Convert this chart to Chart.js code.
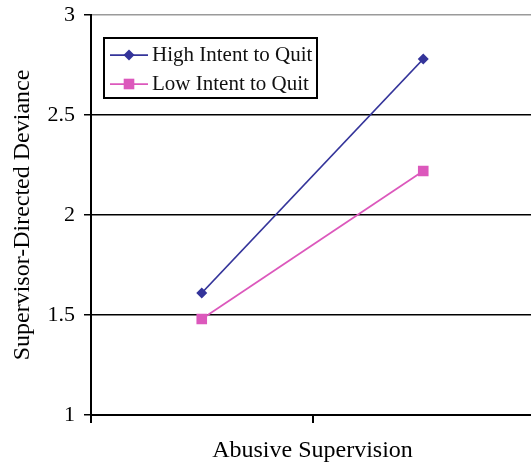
<!DOCTYPE html>
<html><head><meta charset="utf-8">
<script src="https://cdn.jsdelivr.net/npm/chart.js@4.4.0/dist/chart.umd.min.js"></script>
<style>html,body{margin:0;padding:0;overflow:hidden;background:#fff}#wrap{position:relative;width:534px;height:465px}</style>
</head><body><div id="wrap"><canvas id="c"></canvas></div>
<script>
// ---- data ----
const categories = ['Low Abusive Supervision', 'High Abusive Supervision'];
const seriesNames = ['High Intent to Quit', 'Low Intent to Quit'];
const highIntentValues = [1.61, 2.78];
const lowIntentValues = [1.48, 2.22];
const yTickValues = [1, 1.5, 2, 2.5, 3];
const yTitle = 'Supervisor-Directed Deviance';
const xTitle = 'Abusive Supervision';

// ---- styles ----
const SERIF = "'Liberation Serif', 'Times New Roman', serif";
const colors = ['#34349a', '#dc58bc'];
const styles = ['rectRot', 'rect'];
const radii = [5.5, 7.5];

function legendIcon(color, style, radius) {
  const c = document.createElement('canvas');
  c.width = 38; c.height = 16;
  const g = c.getContext('2d');
  g.strokeStyle = color; g.lineWidth = 1.75;
  g.beginPath(); g.moveTo(0, 8); g.lineTo(38, 8); g.stroke();
  g.fillStyle = color;
  const s = radius * Math.SQRT1_2;
  g.save(); g.translate(19, 8);
  if (style === 'rectRot') g.rotate(Math.PI / 4);
  g.fillRect(-s, -s, 2 * s, 2 * s);
  g.restore();
  return c;
}
const icons = [0, 1].map(i => legendIcon(colors[i], styles[i], radii[i]));

const legendBoxPlugin = {
  id: 'legendBox',
  beforeDraw(chart) {
    const lg = chart.legend;
    if (!lg) return;
    const w = lg.width, h = lg.height;
    lg.left = 108.5; lg.top = 36.5; lg.right = lg.left + w; lg.bottom = lg.top + h;
  },
  afterDraw(chart) {
    const ctx = chart.ctx;
    ctx.save();
    ctx.strokeStyle = '#000'; ctx.lineWidth = 2;
    ctx.strokeRect(104, 38, 213, 60);
    ctx.restore();
  }
};

Chart.defaults.color = '#000';
Chart.defaults.font.family = SERIF;

new Chart(document.getElementById('c'), {
  type: 'line',
  data: {
    labels: categories,
    datasets: [
      { label: seriesNames[0], data: highIntentValues, borderColor: colors[0], backgroundColor: colors[0],
        pointStyle: styles[0], pointRadius: radii[0], pointBorderWidth: 0, borderWidth: 1.75, tension: 0 },
      { label: seriesNames[1], data: lowIntentValues, borderColor: colors[1], backgroundColor: colors[1],
        pointStyle: styles[1], pointRadius: radii[1], pointBorderWidth: 0, borderWidth: 1.75, tension: 0 }
    ]
  },
  options: {
    responsive: true, maintainAspectRatio: false, animation: false,
    layout: { autoPadding: false, padding: { top: 15, left: 0, right: 0, bottom: 0 } },
    plugins: {
      tooltip: { enabled: false },
      legend: {
        position: 'chartArea', align: 'start',
        labels: {
          usePointStyle: true, pointStyleWidth: 25, boxHeight: 14, padding: 8,
          font: { family: SERIF, size: 21 }, color: '#111',
          generateLabels(chart) {
            const items = Chart.defaults.plugins.legend.labels.generateLabels(chart);
            items.forEach((it, i) => { it.pointStyle = icons[i]; });
            return items;
          }
        }
      }
    },
    scales: {
      x: {
        offset: true,
        afterFit(s) { s.height = 50; s.paddingLeft = 0; s.paddingRight = 0; },
        grid: { offset: true, drawOnChartArea: false, drawTicks: true, tickLength: 8, color: '#000', lineWidth: 2 },
        border: { display: true, color: '#000', width: 2 },
        ticks: { display: false },
        title: { display: true, text: xTitle, font: { family: SERIF, size: 24 }, padding: { top: 0, bottom: 0 } }
      },
      y: {
        min: 1, max: 3,
        afterFit(s) { s.width = 91; s.paddingTop = 0; s.paddingBottom = 0; },
        afterBuildTicks(s) { s.ticks = yTickValues.map(v => ({ value: v })); },
        grid: {
          color: ctx => (ctx.tick && ctx.tick.value === 3) ? '#9a9a9a' : '#000',
          lineWidth: 1.5, tickLength: 7, tickColor: '#000', tickWidth: 1.5
        },
        border: { display: true, color: '#000', width: 2 },
        ticks: { padding: 9, font: { family: SERIF, size: 22 }, color: '#000', callback: v => String(v) },
        title: { display: true, text: yTitle, font: { family: SERIF, size: 24 }, padding: { top: 8, bottom: 0 } }
      }
    }
  },
  plugins: [legendBoxPlugin]
});
</script></body></html>
